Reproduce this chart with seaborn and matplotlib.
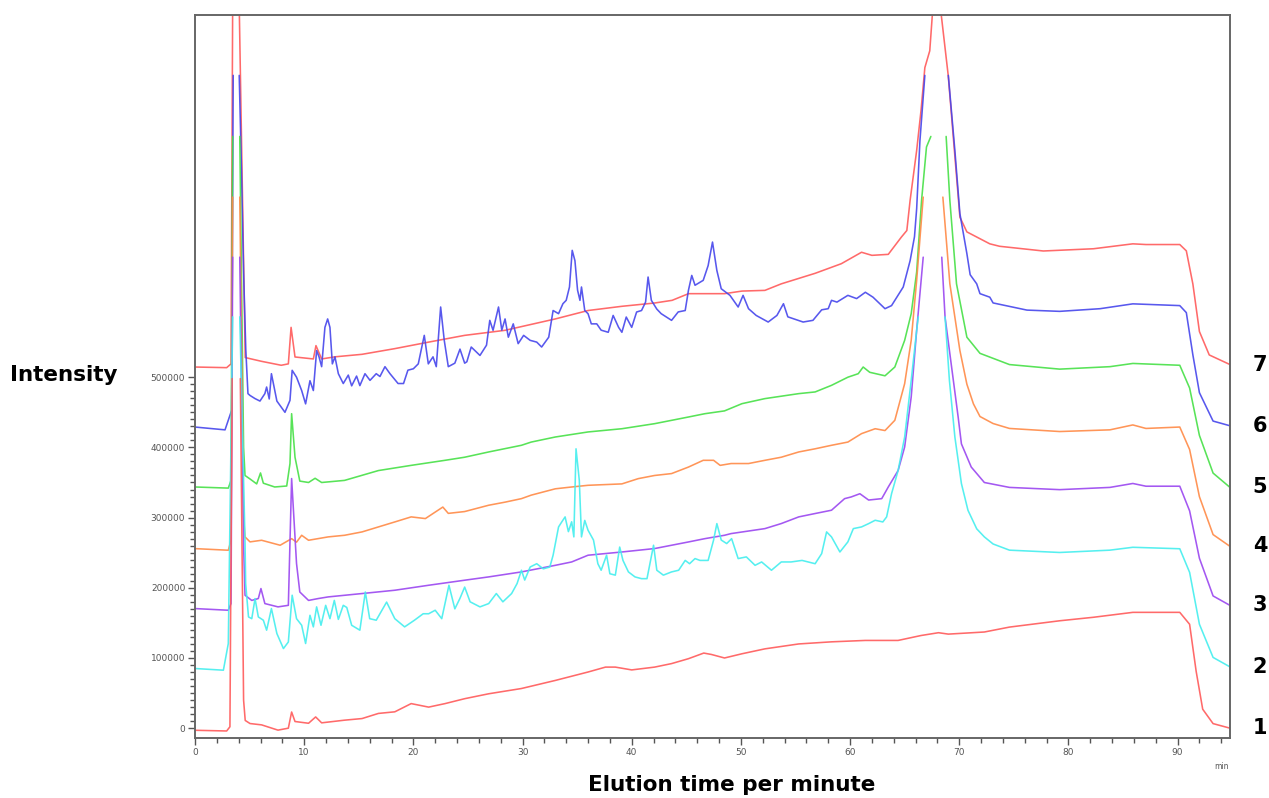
import numpy as np
import pandas as pd
import matplotlib
matplotlib.use('Agg')
import matplotlib.pyplot as plt
import matplotlib.transforms as mtransforms
from matplotlib.ticker import MultipleLocator, FixedLocator, FuncFormatter
import seaborn as sns

# Overlay of 7 chromatograms.
# time in min, intensity in thousands (already shifted like on the plot)
# None = trace runs past its own scale there and is not drawn
t1 = [0, 2.9, 3.2, 3.4, 3.75, 4.15, 4.45, 4.6, 5.04, 6.1, 7.6, 8.55, 8.85, 9.16, 10.4, 11.05, 11.6, 13.7,
      15.3, 16.8, 18.3, 19.8, 21.4, 22.9, 24.7, 26.9, 29.9, 33.0, 36.0, 37.6, 38.5, 40.0, 42.1, 43.65,
      45.2, 46.6, 47.3, 48.5, 50.1, 52.2, 55.3, 58.3, 61.4, 64.4, 66.5, 68.1, 69.0, 72.3, 74.6, 79.2,
      82.3, 85.9, 90.2, 91.1, 91.7, 92.3, 93.25, 94.8]
i1 = [-3, -4, 2, 498, None, 498, 40, 11, 6.6, 4.7, -2.8, 0, 23, 9.5, 7, 16, 7.6, 11.4,
      13.7, 21, 23.3, 35, 30, 35, 42, 49, 56.5, 68, 80, 87, 87, 83, 87, 92,
      99, 107, 105, 100, 106, 113, 120, 123, 125, 125, 132, 136, 134, 137, 144, 153,
      158, 165, 165, 148, 81, 27, 6.5, 0]

t2 = [0, 2.6, 3.05, 3.45, 3.75, 4.1, 4.58, 4.64, 4.9, 5.2, 5.5, 5.8, 6.26, 6.56, 7.0, 7.5, 8.1, 8.55,
      8.9, 9.3, 9.77, 10.13, 10.53, 10.84, 11.14, 11.54, 11.97, 12.36, 12.76, 13.13, 13.58, 13.9, 14.35,
      15.1, 15.6, 16.0, 16.6, 17.55, 18.3, 19.2, 20.1, 20.9, 21.4, 22.0, 22.6, 23.26, 23.8, 24.27, 24.7,
      25.2, 26.1, 26.9, 27.6, 28.2, 29.0, 29.5, 29.9, 30.2, 30.7, 31.3, 31.9, 32.5, 32.8, 33.3, 33.6,
      33.9, 34.2, 34.5, 34.7, 34.9, 35.2, 35.4, 35.7, 36.0, 36.5, 36.9, 37.2, 37.7, 38.0, 38.5, 38.9,
      39.2, 39.7, 40.3, 40.9, 41.4, 42.0, 42.3, 42.9, 43.65, 44.3, 44.9, 45.3, 45.8, 46.25, 47.0, 47.5,
      47.8, 48.2, 48.7, 49.15, 49.75, 50.5, 51.3, 51.9, 52.8, 53.7, 54.6, 55.6, 56.8, 57.4, 57.85, 58.3,
      59.07, 59.8, 60.3, 61.05, 61.7, 62.3, 63.0, 63.35, 63.8, 64.4, 65.0, 65.6, 66.1, 66.25, 67.5,
      68.7, 69.1, 69.6, 70.2, 70.8, 71.6, 72.3, 73.1, 74.6, 79.2, 83.8, 85.9, 90.2, 91.1, 92.0, 93.25, 94.8]
i2 = [85, 82.6, 120.6, 586, None, 586, 268, 206, 158.5, 156, 184.6, 158.5, 153.8, 139.6, 170.4, 134.8, 113.4, 122.8,
      189.4, 156, 146.6, 120.6, 160.8, 144.3, 172.8, 146.6, 175, 156, 182, 155, 175, 172, 146.6,
      139.6, 194, 156, 153.8, 179.6, 156, 144.3, 153.8, 163, 163, 168, 156, 203.6, 170, 185, 201,
      180, 172.8, 177.5, 191.8, 180, 191.8, 206, 225, 211, 229.6, 234.3, 227, 229.6, 246.4, 286.7, 294,
      301, 280, 294, 272.5, 398, 353, 272.5, 296, 282, 268, 234.3, 225, 246.4, 220, 218, 258,
      239, 222.6, 215.5, 213, 213, 260.6, 225, 218, 222.6, 225, 239, 234.3, 241.6, 239, 239, 268,
      291.4, 268, 263, 270, 241.6, 244, 232, 236.8, 225, 236.8, 236.8, 239, 234.3, 248.7, 279.6, 272.5,
      251, 265.4, 284.3, 286.7, 291.4, 296.2, 293.8, 301, 334, 367, 414.8, 495.5, 566.8, 586, None,
      586, 495.5, 414.8, 348.4, 310.4, 284, 272.5, 262.4, 253.6, 250.3, 253.6, 257.7, 255.6, 222, 148, 100.8, 87.3]

t3 = [0, 3.05, 3.3, 3.45, 3.75, 4.1, 4.45, 4.58, 5.2, 5.8, 6.04, 6.4, 7.6, 8.55, 8.85, 9.3, 9.6, 10.4,
      11.3, 12.2, 15.3, 18.3, 21.4, 24.7, 26.9, 29.9, 33.0, 34.5, 36.0, 39.1, 42.1, 43.65, 45.2, 46.7,
      48.5, 49.1, 52.2, 53.7, 55.3, 56.8, 58.3, 59.5, 60.1, 60.9, 61.7, 62.9, 63.5, 64.4, 65.0, 65.6,
      66.1, 66.7, 67.5, 68.4, 68.7, 69.3, 69.9, 70.2, 71.1, 72.3, 74.6, 79.2, 83.8, 85.9, 87.1, 90.2,
      91.1, 92.0, 93.25, 94.8]
i3 = [170.4, 168, 177.5, 671, None, 671, 260, 189.4, 182, 184.7, 198.9, 177.5, 172.8, 175, 355.6, 234.5, 194, 182,
      184.7, 187, 191.8, 196.5, 203.6, 210.8, 215.5, 222.6, 232, 236.8, 246.4, 251, 255.9, 260.6, 265.3, 270,
      274.8, 277.2, 284.3, 291.5, 301, 305.8, 310.5, 327, 329.4, 334, 325, 327, 343.6, 367, 400.6, 471.8,
      566.8, 671, None, 671, 585.7, 514.5, 443.3, 405, 372, 350, 343, 339.8, 343, 348.6, 344.7, 344.7,
      309.6, 242, 188.4, 174.9]

t4 = [0, 3.05, 3.3, 3.45, 3.75, 4.1, 4.45, 4.58, 5.04, 6.1, 7.8, 8.85, 9.3, 9.77, 10.4, 12.2, 13.7, 15.3,
      16.8, 18.3, 19.8, 21.1, 22.7, 23.2, 24.7, 26.9, 28.4, 29.9, 30.8, 33.0, 34.5, 36.0, 39.1, 40.6,
      42.1, 43.65, 45.2, 46.55, 47.5, 48.1, 49.1, 50.7, 52.2, 53.7, 55.3, 56.8, 58.3, 59.8, 61.05, 62.3,
      63.2, 64.1, 65.0, 65.6, 66.1, 66.7, 67.5, 68.5, 69.14, 70.06, 70.7, 71.3, 71.9, 73.1, 74.6, 79.2,
      83.8, 85.9, 87.1, 90.2, 91.1, 92.0, 93.25, 94.8]
i4 = [255.8, 253.5, 267.7, 756.6, None, 756.6, 300, 272.5, 265.4, 267.7, 260.6, 270, 265, 274.8, 267.7, 272.5, 274.8, 279.6,
      286.7, 293.8, 301, 298.6, 315, 306, 308.6, 317.6, 322, 327, 332, 341, 343.6, 346, 348, 355.5,
      360, 362.7, 372, 381.6, 381.6, 374.4, 377, 377, 381.6, 386, 393.5, 398, 403, 407.6, 419.6, 426.6,
      424, 438.6, 490.8, 552.5, 638, 756.6, None, 756.6, 633, 538, 490, 462, 444, 434, 427, 422.6,
      425, 432, 427, 429, 397, 329.7, 275.8, 259]

t5 = [0, 3.05, 3.3, 3.45, 3.75, 4.1, 4.45, 4.58, 5.04, 5.65, 6.0, 6.26, 7.3, 8.4, 8.7, 8.85, 9.16, 9.6,
      10.4, 11.0, 11.6, 13.7, 16.8, 19.8, 22.9, 24.7, 26.9, 29.9, 30.8, 33.0, 36.0, 39.1, 42.1, 45.2,
      46.7, 48.5, 50.1, 52.2, 55.3, 56.8, 58.3, 59.8, 60.75, 61.2, 61.8, 63.2, 64.1, 65.0, 65.6, 66.1,
      66.55, 67.0, 67.4, 68.1, 68.8, 69.14, 69.75, 70.7, 71.9, 74.6, 79.2, 83.8, 85.9, 90.2, 91.1, 92.0,
      93.25, 94.8]
i5 = [343.6, 342, 353, 843, None, 843, 400, 360, 355, 348, 363.6, 349, 343.6, 345, 377, 448, 386, 352,
      350, 356, 350, 353, 367, 374.4, 381.6, 386, 393.5, 403, 407.6, 414.8, 422, 426.6, 433.8, 443.3,
      448, 452, 462.3, 469.5, 476.6, 479, 488.4, 500, 505, 514.5, 507, 502, 514.5, 552.5, 590.5, 650,
      752, 828, 843, None, 843, 752, 633, 557, 534, 518, 511.5, 515, 519.6, 517, 484.6, 417,
      363.4, 343]

t6 = [0, 2.75, 3.36, 3.5, 3.75, 4.05, 4.25, 4.45, 4.65, 4.85, 5.04, 5.5, 5.95, 6.4, 6.56, 6.8, 7.0, 7.5,
      8.24, 8.7, 8.9, 9.3, 9.77, 10.13, 10.53, 10.84, 11.14, 11.36, 11.6, 11.9, 12.15, 12.36, 12.58, 12.82,
      13.13, 13.58, 14.04, 14.35, 14.8, 15.1, 15.57, 16.03, 16.6, 16.94, 17.4, 17.86, 18.6, 19.1, 19.5,
      20.0, 20.45, 21.0, 21.37, 21.8, 22.1, 22.5, 22.83, 23.2, 23.8, 24.27, 24.7, 24.9, 25.3, 26.1, 26.7,
      27.0, 27.3, 27.8, 28.1, 28.4, 28.7, 29.15, 29.6, 30.1, 30.7, 31.3, 31.75, 32.4, 32.8, 33.3, 33.7,
      34.0, 34.3, 34.55, 34.8, 35.04, 35.26, 35.4, 35.7, 36.0, 36.3, 36.8, 37.2, 37.85, 38.3, 38.8, 39.1,
      39.5, 40.0, 40.45, 40.9, 41.27, 41.5, 41.8, 42.3, 42.7, 43.65, 44.26, 44.9, 45.2, 45.5, 45.8, 46.55,
      47.0, 47.4, 47.8, 48.2, 49.0, 49.75, 50.2, 50.7, 51.4, 52.5, 53.3, 53.9, 54.3, 55.7, 56.6, 57.4,
      58.0, 58.3, 58.8, 59.8, 60.6, 61.4, 62.1, 63.2, 63.8, 64.87, 65.5, 65.9, 66.1, 66.4, 66.85, 67.9,
      69.0, 69.6, 70.06, 70.7, 71.0, 71.6, 71.9, 72.8, 73.1, 76.2, 79.2, 82.9, 85.9, 90.2, 90.8, 91.4,
      92.0, 93.25, 94.8]
i6 = [429, 425, 453, 930, None, 930, 800, 650, 540, 476.6, 474, 469.5, 466, 476.6, 486, 469, 505, 466,
      450, 467, 509.8, 500, 481, 462, 495, 481, 538, 529, 515, 571, 583, 571, 519, 529,
      505, 491, 503, 487.7, 501.6, 488, 505, 495.5, 505, 501, 515, 505, 491, 491, 510,
      512, 519, 559.6, 519, 529, 515, 600, 552.5, 515, 520, 540, 520, 522, 543, 531, 545.6,
      581, 566.8, 600, 567, 583, 557, 576, 547.8, 559.6, 552.5, 550, 543, 557, 595, 590.5, 604.7,
      609.5, 628.5, 680.7, 666, 624, 609.5, 628.5, 595, 590.5, 576, 576, 567, 564, 588, 571, 564,
      585.7, 571, 592.9, 595, 607, 642.7, 609.5, 597, 590.5, 581, 593, 595, 624, 645, 631, 638,
      659, 692.5, 652, 626, 616.6, 600, 616.6, 597.6, 588, 578.6, 588, 604.7, 586, 578.6, 581, 596,
      597.6, 609.5, 607, 616.6, 612, 621, 614, 597.6, 602, 628.5, 666, 700, 740, 837, 930, None,
      930, 823, 733, 676, 646, 633, 619, 614, 605.8, 595.6, 593.8, 597.6, 604.5, 602, 592, 531.7,
      477.9, 437.5, 430.8]

t7 = [0, 2.9, 3.3, 3.45, 3.75, 4.05, 4.6, 6.1, 7.9, 8.55, 8.8, 9.16, 10.84, 11.08, 11.6, 12.8, 15.3, 18.3,
      21.4, 24.7, 28.4, 33.0, 36.0, 39.1, 42.1, 43.7, 45.2, 48.5, 50.1, 52.2, 53.7, 56.8, 59.2, 61.05,
      62.0, 63.5, 64.7, 65.2, 65.5, 66.1, 66.5, 66.85, 67.3, 67.6, 67.95, 68.25, 68.99, 70.06, 70.7, 72.8,
      73.7, 77.7, 82.3, 85.9, 87.1, 90.2, 90.8, 91.4, 92.0, 92.9, 94.8]
i7 = [514.5, 513.6, 519, 1030, None, 1030, 528, 522.6, 517, 519, 571, 528.8, 526, 545, 526, 529, 532.6, 540.7,
      550, 559.6, 566.8, 583, 595, 601, 605.7, 609.5, 619, 619, 622.7, 623.7, 633, 648, 661.7, 678,
      673.6, 675, 699.6, 709, 752, 823, 880, 941, 965, 1030, None, 1030, 930, 728, 707, 690,
      686.5, 679.8, 683, 690, 689, 689, 680, 632.7, 565, 531.7, 518]

trace_names = ['1', '2', '3', '4', '5', '6', '7']
trace_colors = ['#ff5a5a', '#44eeee', '#9a46f0', '#ff8a46', '#46e046', '#4646ec', '#ff5a5a']
all_t = [t1, t2, t3, t4, t5, t6, t7]
all_i = [i1, i2, i3, i4, i5, i6, i7]

frames = []
for name, t, i in zip(trace_names, all_t, all_i):
    df = pd.DataFrame({'time': t, 'intensity': [np.nan if v is None else v for v in i]})
    df['intensity'] = df['intensity'] * 1000
    df['seg'] = df['intensity'].isna().cumsum()
    df = df.dropna()
    df['trace'] = name
    frames.append(df)
data = pd.concat(frames, ignore_index=True)

sns.set_style('white')
plt.rcParams['font.family'] = ['DejaVu Sans']

fig = plt.figure(figsize=(12.69, 7.98), dpi=100)
ax = fig.add_axes([195 / 1269, 1 - 738 / 798, 1035 / 1269, 723 / 798])

# draw top trace first so trace 1 ends up on top
for name, color in reversed(list(zip(trace_names, trace_colors))):
    sub = data[data['trace'] == name]
    sns.lineplot(data=sub, x='time', y='intensity', units='seg', estimator=None, sort=False,
                 color=color, lw=1.15, alpha=0.9, ax=ax, legend=False)

ax.set_xlim(0, 94.8)
ax.set_ylim(-14000, 1016000)
ax.set_xlabel('')
ax.set_ylabel('')

ax.xaxis.set_major_locator(MultipleLocator(10))
ax.xaxis.set_minor_locator(MultipleLocator(2))
ax.yaxis.set_major_locator(FixedLocator(np.arange(0, 500001, 100000)))
ax.yaxis.set_minor_locator(FixedLocator(np.arange(0, 500001, 10000)))
ax.yaxis.set_major_formatter(FuncFormatter(lambda v, p: f'{int(v)}'))
ax.tick_params(which='both', direction='out', bottom=True, left=True, color='#555555', width=1,
               labelsize=6.5, labelcolor='#555555', pad=2)
ax.tick_params(which='major', length=5)
ax.tick_params(which='minor', length=3.5)
for s in ax.spines.values():
    s.set_color('#666666')
    s.set_linewidth(1.4)

# trace numbers on the right, at the end level of each trace
trans = mtransforms.blended_transform_factory(ax.transAxes, ax.transData)
for name in trace_names:
    sub = data[data['trace'] == name]
    ax.text(1.029, sub['intensity'].iloc[-1], name, transform=trans, ha='center', va='center',
            fontsize=15, fontweight='bold', color='black')

ax.text(0.992, -0.04, 'min', transform=ax.transAxes, ha='center', va='center', fontsize=5.5, color='#555555')
fig.text(10 / 1269, 1 - 375 / 798, 'Intensity', ha='left', va='center', fontsize=15.5, fontweight='bold',
         color='black')
fig.text(732 / 1269, 1 - 785 / 798, 'Elution time per minute', ha='center', va='center', fontsize=15.5,
         fontweight='bold', color='black')

fig.savefig('out.png', dpi=100)
